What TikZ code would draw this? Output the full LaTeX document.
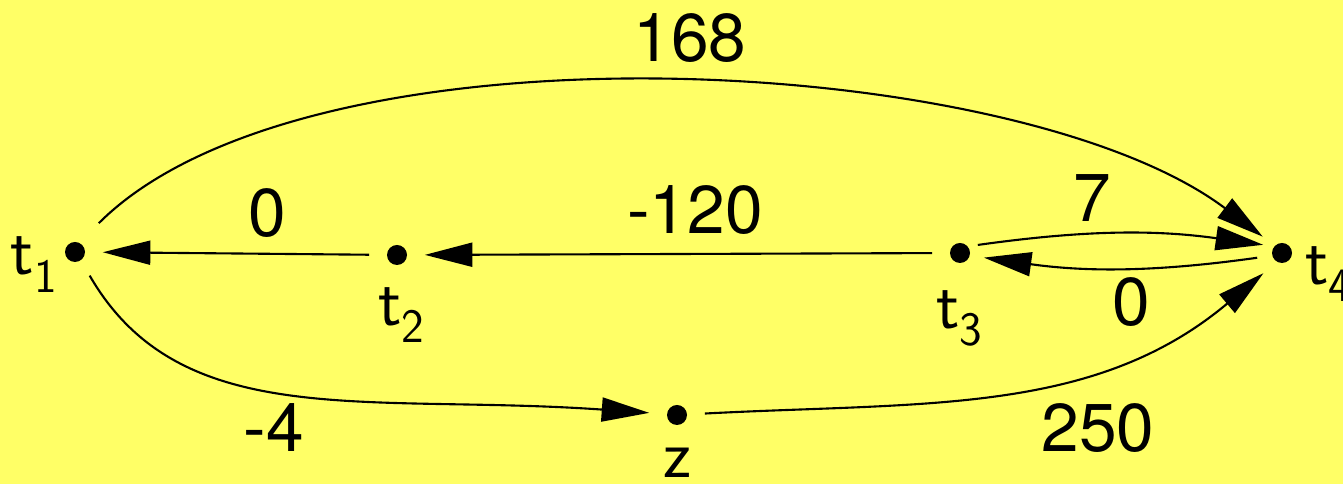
\documentclass[tikz,border=0pt]{standalone}
\usepackage{fontspec}
\usepackage{tikz}
\usetikzlibrary{arrows.meta,positioning}
\newfontfamily\numfont{TeX Gyre Heros}
\definecolor{bgyellow}{RGB}{255,255,102}

\begin{document}
\begin{tikzpicture}[
    vertex/.style={circle, fill=black, inner sep=0pt, minimum size=0.4cm},
    vname/.style={inner sep=0pt, font=\sffamily\fontsize{39}{44}\selectfont},
    weight/.style={inner sep=0pt, font=\numfont\fontsize{38.5}{44}\selectfont},
    arc/.style={line width=1.2pt, -{Triangle[length=0.95cm,width=0.48cm]}, shorten >=0.35cm, shorten <=0.35cm},
]
    % Background
    \fill[bgyellow] (0,0) rectangle (26.86,9.68);
    \useasboundingbox (0,0) rectangle (26.86,9.68);
    % Vertices
    \node[vertex] (t1) at (1.50,4.64) {};
    \node[vertex] (t2) at (7.94,4.58) {};
    \node[vertex] (t3) at (19.20,4.62) {};
    \node[vertex] (t4) at (25.64,4.62) {};
    \node[vertex] (z) at (13.54,1.38) {};
    % Vertex names
    \node[vname, anchor=base east] (t1n) at ([xshift=-0.34cm, yshift=-0.46cm]t1.center) {t\textsubscript{1}};
    \node[vname, below=0.44cm of t2, xshift=0.1cm] (t2n) {t\textsubscript{2}};
    \node[vname, below=0.54cm of t3] (t3n) {t\textsubscript{3}};
    \node[vname, anchor=base west] (t4n) at ([xshift=0.46cm, yshift=-0.64cm]t4.center) {t\textsubscript{4}};
    \node[vname, below=0.44cm of z] (zn) {z};
    % Edges
    \draw[arc] (t2) -- (t1);
    \draw[arc] (t3) -- (t2);
    \draw[arc, shorten <=0.2cm, shorten >=0.22cm] (t3.40) to[bend left=8] (t4.140);
    \draw[arc, shorten <=0.3cm, shorten >=0.28cm] (t4.195) to[bend left=8] (t3.-15);
    \draw[arc, shorten <=0.55cm, shorten >=0.3cm] (t1.65) to[out=45, in=143, looseness=0.69] (t4.135);
    \draw[arc] (t1.-55) .. controls +(-60:4) and +(176:6) .. (z.175);
    \draw[arc] (z.3) to[out=3, in=-140] (t4.-120);
    % Weights
    \node[weight] (w168) at (13.80,8.92) {168};
    \node[weight] (w0a) at (5.34,5.42) {0};
    \node[weight] (w120) at (13.90,5.48) {-120};
    \node[weight] (w7) at (21.84,5.72) {7};
    \node[weight] (w0b) at (22.62,3.64) {0};
    \node[weight] (w4) at (5.48,1.12) {-4};
    \node[weight] (w250) at (21.96,1.12) {250};
\end{tikzpicture}
\end{document}
